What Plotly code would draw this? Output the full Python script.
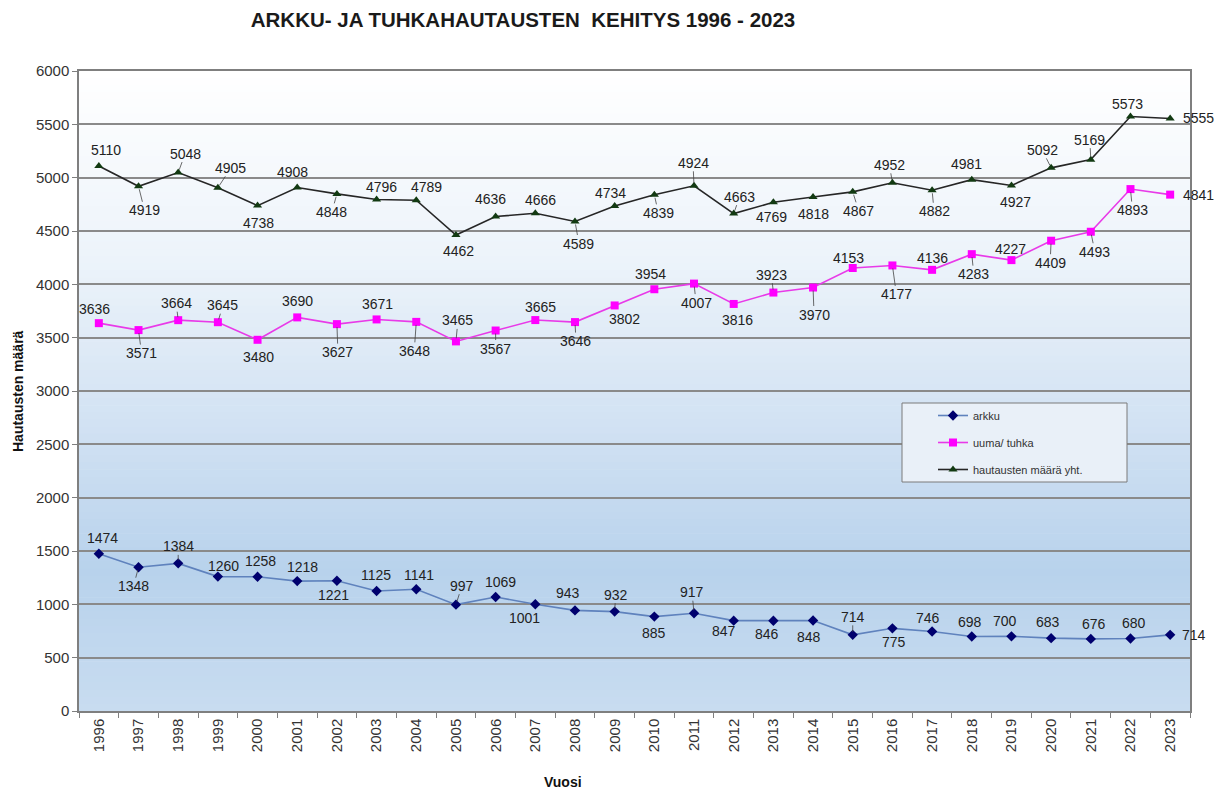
import plotly.graph_objects as go

years = [str(y) for y in range(1996, 2024)]
arkku = [1474, 1348, 1384, 1260, 1258, 1218, 1221, 1125, 1141, 997, 1069, 1001, 943, 932,
         885, 917, 847, 846, 848, 714, 775, 746, 698, 700, 683, 676, 680, 714]
uuma = [3636, 3571, 3664, 3645, 3480, 3690, 3627, 3671, 3648, 3465, 3567, 3665, 3646, 3802,
        3954, 4007, 3816, 3923, 3970, 4153, 4177, 4136, 4283, 4227, 4409, 4493, 4893, 4841]
total = [5110, 4919, 5048, 4905, 4738, 4908, 4848, 4796, 4789, 4462, 4636, 4666, 4589, 4734,
         4839, 4924, 4663, 4769, 4818, 4867, 4952, 4882, 4981, 4927, 5092, 5169, 5573, 5555]

names = ["arkku", "uuma/ tuhka", "hautausten määrä yht."]
title_text = "ARKKU- JA TUHKAHAUTAUSTEN  KEHITYS 1996 - 2023"

# label offsets in pixels (dx, dy; dy positive = down) and leader-line flags
total_off = [(7, -16), (6, 24), (7, -19), (13, -20), (1, 17), (-5, -15), (-5, 18), (5, -12),
             (10, -13), (3, 16), (-5, -17), (5, -13), (4, 22), (-4, -13), (4, 18), (-1, -23),
             (6, -17), (-2, 15), (0, 17), (6, 19), (-3, -18), (2, 21), (-5, -16), (4, 17),
             (-9, -18), (-1, -20), (-3, -13), (28, 0)]
total_lead = [0, 1, 1, 1, 0, 0, 1, 0, 0, 0, 0, 0, 1, 0, 1, 1, 1, 0, 0, 1, 1, 1, 0, 0, 1, 1, 0, 0]
uuma_off = [(-4, -14), (3, 23), (-2, -17), (5, -17), (1, 17), (0, -16), (1, 28), (1, -15),
            (-2, 29), (2, -21), (0, 18), (5, -13), (1, 19), (10, 14), (-4, -15), (2, 19),
            (4, 16), (-2, -18), (1, 27), (-4, -10), (4, 29), (0, -12), (2, 20), (-1, -11),
            (-1, 22), (4, 20), (2, 21), (28, 0)]
uuma_lead = [0, 1, 1, 1, 0, 0, 1, 0, 1, 1, 1, 0, 1, 0, 0, 1, 0, 1, 1, 0, 1, 0, 1, 0, 1, 1, 1, 0]
arkku_off = [(4, -16), (-5, 19), (0, -17), (6, -11), (3, -16), (5, -14), (-3, 14), (-1, -16),
             (3, -14), (6, -19), (5, -15), (-11, 14), (-7, -17), (1, -17), (0, 16), (-2, -21),
             (-10, 10), (-6, 13), (-4, 16), (0, -18), (2, 14), (-4, -13), (-2, -15), (-6, -15),
             (-3, -16), (3, -15), (4, -15), (24, 0)]
arkku_lead = [0, 1, 1, 0, 0, 0, 0, 0, 0, 1, 0, 0, 0, 1, 0, 1, 1, 0, 0, 1, 0, 0, 0, 0, 0, 0, 0, 0]

FONT = "Arial, Liberation Sans, sans-serif"
OFF = 8  # page body margin
W, H = 1225 - OFF, 789 - OFF
L, R, T, B = 79 - OFF, 35, 71 - OFF, 78
pw, ph = W - L - R, H - T - B


def px(sx):  # screen x -> paper x
    return (sx - OFF - L) / pw


def py(sy):  # screen y -> paper y
    return (H - B - (sy - OFF)) / ph


fig = go.Figure()
fig.add_trace(go.Scatter(x=years, y=arkku, name=names[0], mode="lines+markers",
                         line=dict(color="#5f82bd", width=1.6),
                         marker=dict(symbol="diamond", size=8, color="#00006e"),
                         legendgroup="a", cliponaxis=False))
fig.add_trace(go.Scatter(x=years, y=uuma, name=names[1], mode="lines+markers",
                         line=dict(color="#e83ae8", width=1.6),
                         marker=dict(symbol="square", size=8, color="#ff00ff"),
                         legendgroup="b", cliponaxis=False))
fig.add_trace(go.Scatter(x=years, y=total, name=names[2], mode="lines+markers",
                         line=dict(color="#262626", width=1.6),
                         marker=dict(symbol="triangle-up", size=8, color="#123a12"),
                         legendgroup="c", cliponaxis=False))

annotations = []
for vals, offs, leads in [(total, total_off, total_lead), (uuma, uuma_off, uuma_lead),
                          (arkku, arkku_off, arkku_lead)]:
    for i, (v, (dx, dy), ld) in enumerate(zip(vals, offs, leads)):
        if ld:
            annotations.append(dict(x=i, y=v, xref="x", yref="y", text=str(v), showarrow=True,
                                    ax=dx, ay=dy, arrowhead=0, arrowwidth=0.8,
                                    arrowcolor="#444", standoff=3, borderpad=0,
                                    font=dict(family=FONT, size=14, color="#222")))
        else:
            annotations.append(dict(x=i, y=v, xref="x", yref="y", text=str(v), showarrow=False,
                                    xshift=dx, yshift=-dy,
                                    font=dict(family=FONT, size=14, color="#222")))

# axis titles
annotations.append(dict(text="<b>Hautausten määrä</b>", xref="paper", yref="paper",
                        x=px(18), y=0.5, xanchor="center", yanchor="middle",
                        textangle=-90, showarrow=False,
                        font=dict(family=FONT, size=14, color="#111")))
annotations.append(dict(text="<b>Vuosi</b>", xref="paper", yref="paper",
                        x=px(563), y=py(782), xanchor="center", yanchor="middle",
                        showarrow=False, font=dict(family=FONT, size=14, color="#111")))

# gradient background for plot area
def lerp(c1, c2, t):
    return tuple(round(a + (b - a) * t) for a, b in zip(c1, c2))


stops = [(0.0, (255, 255, 255)), (0.30, (236, 243, 250)), (0.55, (210, 226, 243)),
         (0.78, (184, 210, 236)), (1.0, (200, 220, 240))]


def color_at(f):
    for (f0, c0), (f1, c1) in zip(stops[:-1], stops[1:]):
        if f0 <= f <= f1:
            return lerp(c0, c1, (f - f0) / (f1 - f0))
    return stops[-1][1]


shapes = []
N = 90
for i in range(N):
    f = (i + 0.5) / N
    c = color_at(f)
    shapes.append(dict(type="rect", xref="paper", yref="paper", x0=0, x1=1,
                       y0=1 - (i + 1) / N - 0.001, y1=1 - i / N, layer="below",
                       line=dict(width=0), fillcolor="rgb(%d,%d,%d)" % c))

# legend box
shapes.append(dict(type="rect", xref="paper", yref="paper",
                   x0=px(902), x1=px(1127), y0=py(482), y1=py(403), layer="above",
                   line=dict(color="#7a7a7a", width=1), fillcolor="#e9f0f8"))

fig.update_layout(
    width=W, height=H,
    margin=dict(l=L, r=R, t=T, b=B),
    paper_bgcolor="white", plot_bgcolor="white",
    font=dict(family=FONT, color="#333"),
    title=dict(text="<b>" + title_text + "</b>", x=(523 - OFF) / W, xref="container",
               xanchor="center", y=1 - (20 - OFF) / H, yref="container", yanchor="middle",
               font=dict(family=FONT, size=20.5, color="#1a1a1a")),
    showlegend=True,
    legend=dict(x=px(933), y=py(401), xanchor="left", yanchor="top",
                bgcolor="rgba(0,0,0,0)", borderwidth=0, traceorder="grouped",
                tracegroupgap=8, font=dict(family=FONT, size=11, color="#333")),
    xaxis=dict(type="category", range=[-0.5, 27.5], tickangle=-90, tickson="boundaries",
               ticks="outside", ticklen=5, tickcolor="#7f7f7f", showgrid=False,
               showline=True, linecolor="#7f7f7f", linewidth=1.5, mirror=True,
               tickfont=dict(family=FONT, size=15, color="#333")),
    yaxis=dict(range=[0, 6000], dtick=500, ticks="outside", ticklen=5, tickcolor="#7f7f7f",
               showgrid=True, gridcolor="#8a8a8a", gridwidth=1.5, zeroline=False,
               showline=True, linecolor="#7f7f7f", linewidth=1.5, mirror=True,
               tickfont=dict(family=FONT, size=15, color="#333")),
    annotations=annotations,
    shapes=shapes,
)

fig.write_html("out.html")
